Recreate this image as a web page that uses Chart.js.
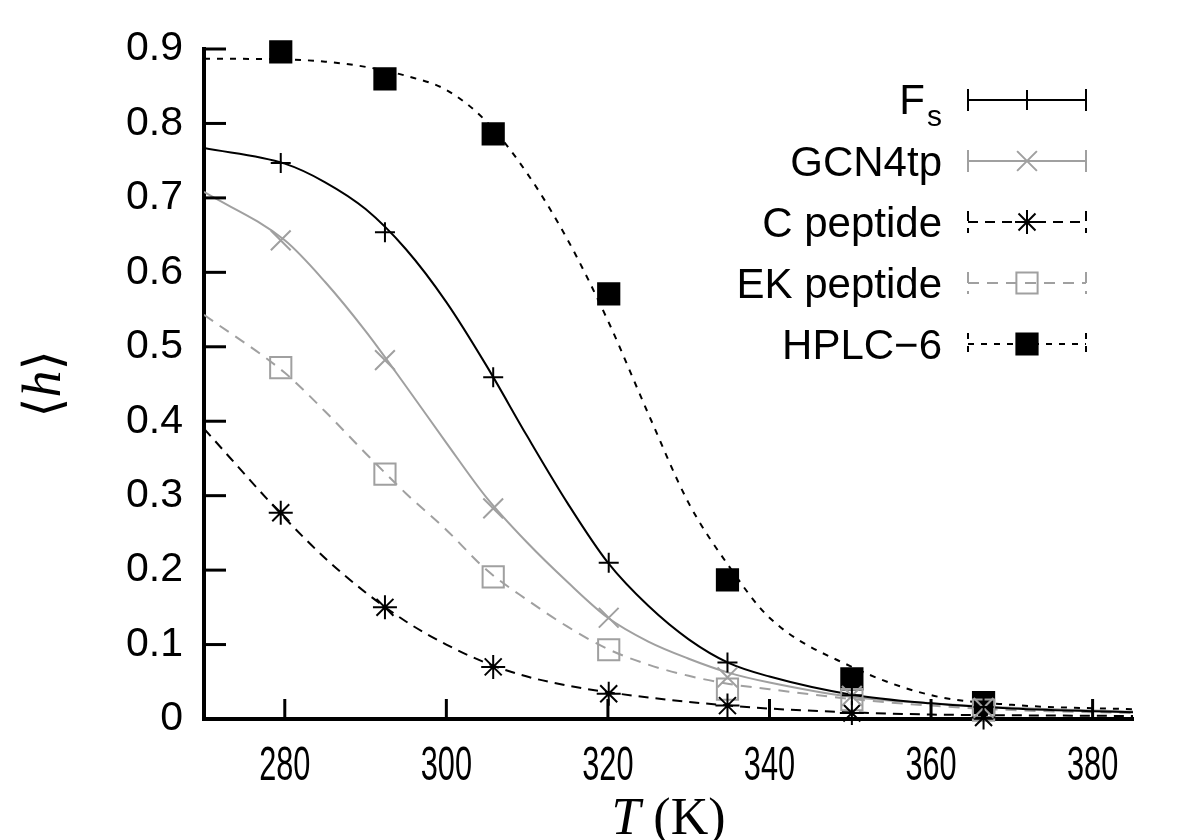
<!DOCTYPE html>
<html>
<head>
<meta charset="utf-8">
<script src="https://cdn.jsdelivr.net/npm/chart.js"></script>
<style>
  html, body { margin: 0; padding: 0; background: #fff; }
  #wrap { width: 1200px; height: 840px; position: relative; }
</style>
</head>
<body>
<div id="wrap"><canvas id="helixChart"></canvas></div>
<script>
// fitted curves
const curveT    = [270, 280, 285, 290, 295, 300, 305, 310, 315, 320, 325, 330, 335, 340, 350, 360, 370, 385];
const fsCurve   = [0.767, 0.746, 0.721, 0.685, 0.631, 0.560, 0.474, 0.380, 0.290, 0.210, 0.152, 0.107, 0.075, 0.057, 0.033, 0.021, 0.014, 0.009];
const gcnCurve  = [0.708, 0.643, 0.587, 0.521, 0.447, 0.371, 0.297, 0.237, 0.184, 0.136, 0.104, 0.081, 0.062, 0.049, 0.030, 0.021, 0.015, 0.010];
const cCurve    = [0.390, 0.270, 0.216, 0.170, 0.131, 0.100, 0.075, 0.057, 0.045, 0.036, 0.029, 0.023, 0.018, 0.014, 0.009, 0.006, 0.005, 0.004];
const ekCurve   = [0.543, 0.465, 0.413, 0.357, 0.303, 0.254, 0.200, 0.160, 0.124, 0.094, 0.073, 0.058, 0.047, 0.040, 0.027, 0.018, 0.012, 0.008];
const hplcCurve = [0.887, 0.886, 0.883, 0.876, 0.864, 0.845, 0.802, 0.733, 0.644, 0.535, 0.410, 0.290, 0.205, 0.136, 0.071, 0.032, 0.019, 0.013];

// simulation points
const pointT  = [279.5, 292.4, 305.8, 320.1, 334.8, 350.2, 366.5];
const fsPts   = [0.747, 0.654, 0.459, 0.210, 0.076, 0.032, 0.016];
const gcnPts  = [0.643, 0.482, 0.283, 0.136, 0.056, 0.031, 0.015];
const cPts    = [0.277, 0.150, 0.070, 0.034, 0.018, 0.008, 0.002];
const ekPts   = [0.472, 0.329, 0.191, 0.093, 0.040, 0.026, 0.012];
const hplcPts = [0.896, 0.860, 0.786, 0.571, 0.187, 0.054, 0.022];

const seriesNames = ['Fs', 'GCN4tp', 'C peptide', 'EK peptide', 'HPLC\u22126'];
const xTicks = [280, 300, 320, 340, 360, 380];
const yTicks = [0, 0.1, 0.2, 0.3, 0.4, 0.5, 0.6, 0.7, 0.8, 0.9];

const GRAY = '#a0a0a0';
const styles = [
  { color: '#000', dash: [],      pointStyle: 'cross',    radius: 10, fill: 'transparent' },
  { color: GRAY,   dash: [],      pointStyle: 'crossRot', radius: 14, fill: 'transparent' },
  { color: '#000', dash: [10, 7], pointStyle: 'star',     radius: 12, fill: 'transparent' },
  { color: GRAY,   dash: [11, 8], pointStyle: 'rect',     radius: 15, fill: 'transparent' },
  { color: '#000', dash: [6, 7],  pointStyle: 'rect',     radius: 15, fill: '#000' }
];

const curves = [fsCurve, gcnCurve, cCurve, ekCurve, hplcCurve];
const points = [fsPts, gcnPts, cPts, ekPts, hplcPts];

function xy(xs, ys) {
  return xs.map((x, i) => ({ x: x, y: ys[i] }));
}

const datasets = [];
curves.forEach((c, i) => {
  datasets.push({
    label: seriesNames[i] + ' fit',
    data: xy(curveT, c),
    showLine: true,
    borderColor: styles[i].color,
    borderWidth: 2,
    borderDash: styles[i].dash,
    cubicInterpolationMode: 'monotone',
    pointRadius: 0,
    order: 2
  });
});
points.forEach((p, i) => {
  datasets.push({
    label: seriesNames[i],
    data: xy(pointT, p),
    showLine: false,
    pointStyle: styles[i].pointStyle,
    pointRadius: styles[i].radius,
    pointBorderWidth: 2,
    pointBorderColor: styles[i].color,
    pointBackgroundColor: styles[i].fill,
    clip: false,
    order: 1
  });
});

function drawMarker(ctx, st, x, y) {
  ctx.save();
  ctx.setLineDash([]);
  ctx.lineWidth = 2;
  ctx.strokeStyle = st.color;
  ctx.fillStyle = st.fill;
  Chart.helpers.drawPoint(ctx, { pointStyle: st.pointStyle, radius: st.radius, rotation: 0, borderWidth: 2 }, x, y);
  ctx.restore();
}

// inward ticks, narrow x labels, axis titles and the legend box
const decor = {
  id: 'decor',
  afterDraw(chart) {
    const ctx = chart.ctx;
    const a = chart.chartArea;
    const xs = chart.scales.x, ys = chart.scales.y;
    ctx.save();
    ctx.strokeStyle = '#000';
    ctx.lineWidth = 3;
    xTicks.forEach(v => {
      const px = xs.getPixelForValue(v);
      ctx.beginPath(); ctx.moveTo(px, a.bottom); ctx.lineTo(px, a.bottom - 20); ctx.stroke();
    });
    yTicks.forEach(v => {
      const py = ys.getPixelForValue(v);
      ctx.beginPath(); ctx.moveTo(a.left, py); ctx.lineTo(a.left + 22, py); ctx.stroke();
    });

    // x tick labels, condensed like the original
    ctx.fillStyle = '#000';
    ctx.textAlign = 'center';
    ctx.textBaseline = 'alphabetic';
    ctx.font = '48px "Liberation Sans", Arial, sans-serif';
    xTicks.forEach(v => {
      const px = xs.getPixelForValue(v);
      ctx.save();
      ctx.translate(px, 780);
      ctx.scale(0.64, 1);
      ctx.fillText(String(v), 0, 0);
      ctx.restore();
    });

    // x title: T (K)
    const cx = (a.left + a.right) / 2;
    ctx.font = 'italic 52px "Liberation Serif", serif';
    const wT = ctx.measureText('T').width;
    ctx.font = '52px "Liberation Serif", serif';
    const wK = ctx.measureText(' (K)').width;
    let sx = cx - (wT + wK) / 2;
    ctx.textAlign = 'left';
    ctx.font = 'italic 52px "Liberation Serif", serif';
    ctx.fillText('T', sx, 834);
    ctx.font = '52px "Liberation Serif", serif';
    ctx.fillText(' (K)', sx + wT, 834);

    // y title: <h>
    ctx.save();
    ctx.translate(46, (a.top + a.bottom) / 2);
    ctx.rotate(-Math.PI / 2);
    ctx.textBaseline = 'middle';
    ctx.font = '52px "DejaVu Serif", serif';
    const wb1 = ctx.measureText('\u27E8').width;
    const wb2 = ctx.measureText('\u27E9').width;
    ctx.font = 'italic 54px "Liberation Serif", serif';
    const wh = ctx.measureText('h').width;
    let ty = -(wb1 + wh + wb2) / 2;
    ctx.textAlign = 'left';
    ctx.font = '52px "DejaVu Serif", serif';
    ctx.fillText('\u27E8', ty, 0);
    ctx.font = 'italic 54px "Liberation Serif", serif';
    ctx.fillText('h', ty + wb1, 0);
    ctx.font = '52px "DejaVu Serif", serif';
    ctx.fillText('\u27E9', ty + wb1 + wh, 0);
    ctx.restore();

    // legend
    const textRight = 942, x0 = 968, x1 = 1086, xm = 1027;
    seriesNames.forEach((name, i) => {
      const y = 100 + i * 61;
      const st = styles[i];
      ctx.fillStyle = '#000';
      ctx.textAlign = 'right';
      ctx.textBaseline = 'alphabetic';
      if (i === 0) {
        ctx.font = '30px "Liberation Sans", Arial, sans-serif';
        const ws = ctx.measureText('s').width;
        ctx.fillText('s', textRight, y + 26);
        ctx.font = '42px "Liberation Sans", Arial, sans-serif';
        ctx.fillText('F', textRight - ws - 2, y + 14);
      } else {
        ctx.font = '42px "Liberation Sans", Arial, sans-serif';
        ctx.fillText(name, textRight, y + 15);
      }
      ctx.strokeStyle = st.color;
      ctx.lineWidth = 2;
      ctx.setLineDash(st.dash);
      ctx.beginPath();
      ctx.moveTo(x0, y); ctx.lineTo(x1, y);
      ctx.moveTo(x0, y - 11); ctx.lineTo(x0, y + 11);
      ctx.moveTo(x1, y - 11); ctx.lineTo(x1, y + 11);
      ctx.stroke();
      ctx.setLineDash([]);
      drawMarker(ctx, st, xm, y);
    });
    ctx.restore();
  }
};

const ctx = document.getElementById('helixChart').getContext('2d');
const helixChart = new Chart(ctx, {
  type: 'scatter',
  data: { datasets: datasets },
  options: {
    responsive: true,
    maintainAspectRatio: false,
    animation: false,
    layout: { padding: { top: 49, right: 67, left: 0, bottom: 0 } },
    plugins: {
      legend: { display: false },
      tooltip: { enabled: false }
    },
    scales: {
      x: {
        type: 'linear',
        min: 270,
        max: 385,
        afterBuildTicks: function(scale) { scale.ticks = xTicks.map(v => ({ value: v })); },
        afterFit: function(scale) { scale.height = 121; },
        grid: { display: false },
        border: { display: true, color: '#000', width: 4 },
        ticks: { display: false }
      },
      y: {
        type: 'linear',
        min: 0,
        max: 0.9,
        afterBuildTicks: function(scale) { scale.ticks = yTicks.map(v => ({ value: v })); },
        afterFit: function(scale) { scale.width = 204; },
        grid: { display: false },
        border: { display: true, color: '#000', width: 4 },
        ticks: {
          color: '#000',
          padding: 13,
          font: { family: '"Liberation Sans", Arial, sans-serif', size: 41 },
          callback: function(v) { return v === 0 ? '0' : v.toFixed(1); }
        }
      }
    }
  },
  plugins: [decor]
});
</script>
</body>
</html>
